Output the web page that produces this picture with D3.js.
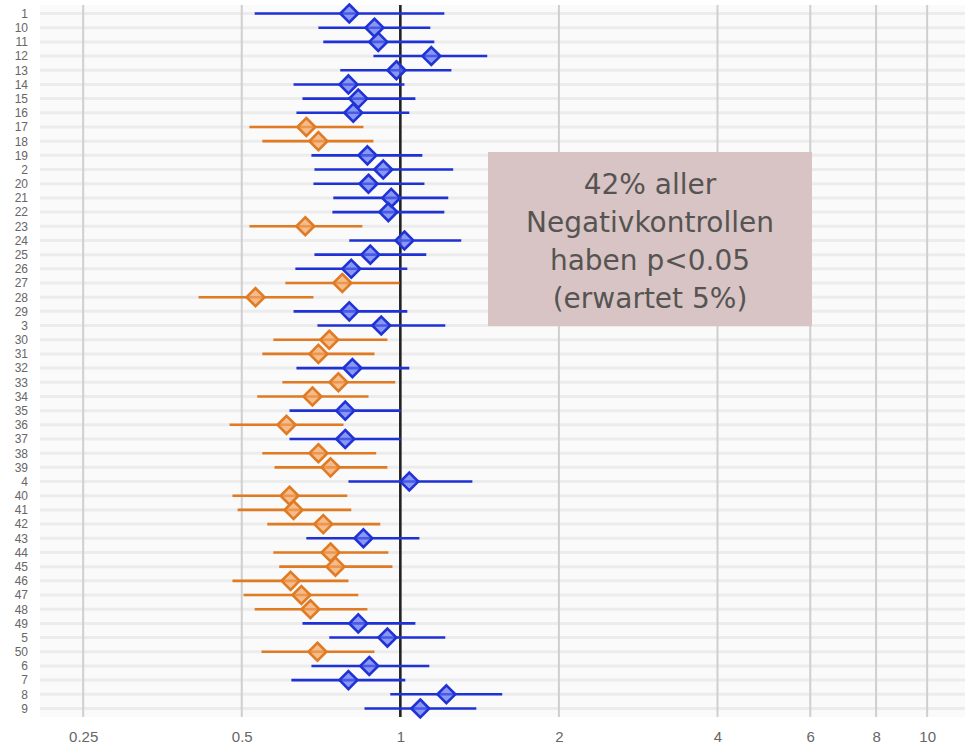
<!DOCTYPE html>
<html>
<head>
<meta charset="utf-8">
<script src="https://cdn.jsdelivr.net/npm/d3@7"></script>
<style>
  html, body { margin: 0; padding: 0; background: #ffffff; }
  svg { display: block; }
</style>
</head>
<body>
<svg id="chart" width="965" height="749"></svg>
<script>
// Negative-control estimates (odds ratios) with 95% confidence intervals
const controls = ["1","10","11","12","13","14","15","16","17","18","19","2","20","21","22","23","24","25","26","27","28","29","3","30","31","32","33","34","35","36","37","38","39","4","40","41","42","43","44","45","46","47","48","49","5","50","6","7","8","9"];
const estimate = [0.800,0.893,0.908,1.145,0.983,0.797,0.832,0.814,0.663,0.699,0.866,0.928,0.870,0.961,0.949,0.660,1.018,0.877,0.807,0.776,0.531,0.800,0.920,0.733,0.699,0.811,0.763,0.681,0.786,0.608,0.786,0.699,0.737,1.040,0.616,0.627,0.714,0.851,0.737,0.753,0.619,0.649,0.675,0.832,0.945,0.696,0.873,0.797,1.223,1.091];
const lower    = [0.529,0.699,0.714,0.889,0.769,0.627,0.652,0.635,0.517,0.547,0.678,0.687,0.684,0.746,0.743,0.517,0.800,0.687,0.632,0.605,0.414,0.627,0.696,0.574,0.547,0.635,0.597,0.535,0.616,0.474,0.616,0.547,0.577,0.797,0.480,0.491,0.559,0.663,0.574,0.589,0.480,0.504,0.529,0.652,0.733,0.545,0.678,0.621,0.957,0.855];
const upper    = [1.212,1.140,1.160,1.462,1.250,1.018,1.068,1.040,0.851,0.889,1.101,1.260,1.111,1.233,1.212,0.847,1.305,1.120,1.031,0.996,0.684,1.031,1.217,0.945,0.893,1.040,0.978,0.870,1.002,0.780,1.002,0.900,0.945,1.370,0.793,0.807,0.916,1.087,0.949,0.966,0.797,0.832,0.866,1.068,1.217,0.893,1.135,1.022,1.561,1.394];
const xTicks = [0.25, 0.5, 1, 2, 4, 6, 8, 10];
const noteLines = ["42% aller", "Negativkontrollen", "haben p<0.05", "(erwartet 5%)"];

const rows = controls.map((c, i) => ({ id: c, est: estimate[i], lo: lower[i], hi: upper[i] }));

const svg = d3.select("#chart");
const panel = { left: 40, right: 965, top: 5, bottom: 717 };

const x = d3.scaleLog().domain([0.207, 11.8]).range([panel.left, panel.right]);
const y = d3.scalePoint().domain(controls).range([panel.top, panel.bottom]).padding(0.6);

// significant when the whole interval lies below 1
const colorLine = d => d.hi < 1 ? "#e07b24" : "#1f32d6";
const colorFill = d => d.hi < 1 ? "#f2a25e" : "#5a6cf0";

// panel background
svg.append("rect")
  .attr("x", panel.left).attr("y", panel.top)
  .attr("width", panel.right - panel.left).attr("height", panel.bottom - panel.top)
  .attr("fill", "#fafafa");

// horizontal row guides
svg.append("g").selectAll("line").data(controls).join("line")
  .attr("x1", panel.left).attr("x2", panel.right)
  .attr("y1", d => y(d)).attr("y2", d => y(d))
  .attr("stroke", "#ececec").attr("stroke-width", 3);

// vertical grid at the x breaks
svg.append("g").selectAll("line").data(xTicks.filter(t => t !== 1)).join("line")
  .attr("x1", d => x(d)).attr("x2", d => x(d))
  .attr("y1", panel.top).attr("y2", panel.bottom)
  .attr("stroke", "#cfcfcf").attr("stroke-width", 2);

// reference line at OR = 1
svg.append("line")
  .attr("x1", x(1)).attr("x2", x(1))
  .attr("y1", panel.top).attr("y2", panel.bottom)
  .attr("stroke", "#222222").attr("stroke-width", 2.6);

// confidence intervals
svg.append("g").selectAll("line").data(rows).join("line")
  .attr("x1", d => x(d.lo)).attr("x2", d => x(d.hi))
  .attr("y1", d => y(d.id)).attr("y2", d => y(d.id))
  .attr("stroke", colorLine).attr("stroke-width", 2.6);

// point estimates as diamonds
const diamond = d3.symbol().type(d3.symbolDiamond2).size(205);
svg.append("g").selectAll("path").data(rows).join("path")
  .attr("d", diamond)
  .attr("transform", d => `translate(${x(d.est)},${y(d.id)})`)
  .attr("fill", colorFill).attr("fill-opacity", 0.7)
  .attr("stroke", colorLine).attr("stroke-width", 2.6);

// y axis labels
const yAxis = d3.axisLeft(y).tickSize(0).tickPadding(0);
const gy = svg.append("g").attr("transform", `translate(28,0)`).call(yAxis);
gy.select(".domain").remove();
gy.selectAll("text")
  .attr("fill", "#666666")
  .style("font-family", "'Liberation Sans', Arial, sans-serif")
  .style("font-size", "12px");

// x axis labels
const xAxis = d3.axisBottom(x).tickValues(xTicks).tickFormat(d3.format("~g")).tickSize(0).tickPadding(0);
const gx = svg.append("g").attr("transform", `translate(0,731)`).call(xAxis);
gx.select(".domain").remove();
gx.selectAll("text")
  .attr("fill", "#666666")
  .style("font-family", "'Liberation Sans', Arial, sans-serif")
  .style("font-size", "15px");

// annotation box
const note = svg.append("g");
note.append("rect")
  .attr("x", 488).attr("y", 152).attr("width", 324).attr("height", 174)
  .attr("fill", "#d8c4c4");
note.selectAll("text").data(noteLines).join("text")
  .attr("x", 650)
  .attr("y", (d, i) => 194 + i * 38)
  .attr("text-anchor", "middle")
  .attr("fill", "#565452")
  .style("font-family", "'DejaVu Sans', sans-serif")
  .style("font-size", "28px")
  .text(d => d);
</script>
</body>
</html>
